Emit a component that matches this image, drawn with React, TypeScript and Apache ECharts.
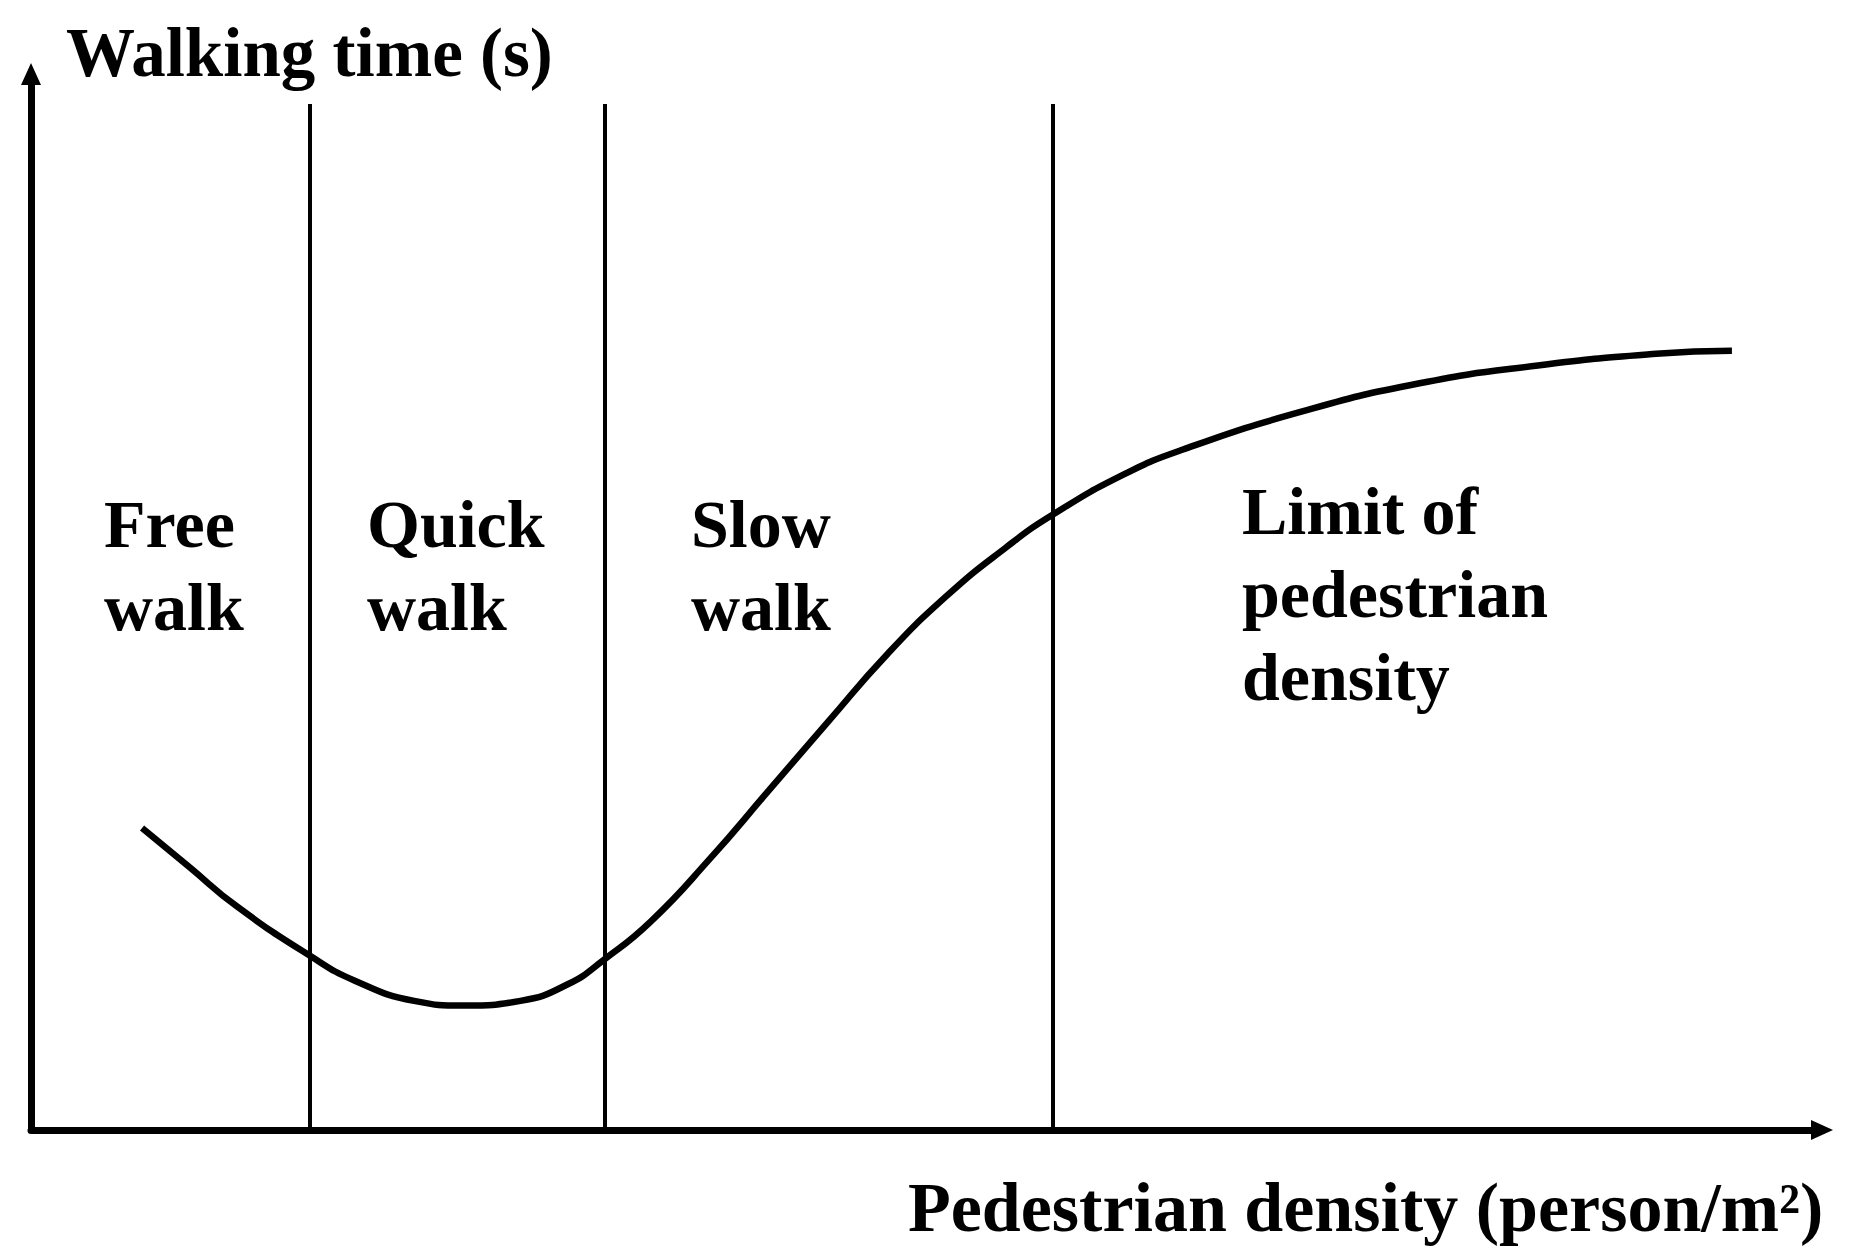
import React, { useEffect, useRef } from "react";
import * as echarts from "echarts";

// Curve: walking time vs pedestrian density (conceptual units 0..10)
const densityX = [0.62, 0.884, 1.148, 1.558, 1.808, 2.139, 2.416, 2.733, 2.997, 3.202, 3.46, 3.79, 4.121, 4.451, 4.781, 5.111, 5.442, 5.706, 6.102, 6.432, 7.093, 7.753, 8.414, 9.074, 9.497];
const walkingTimeY = [2.86, 2.49, 2.119, 1.649, 1.414, 1.223, 1.178, 1.223, 1.38, 1.616, 1.973, 2.567, 3.218, 3.867, 4.506, 5.055, 5.514, 5.828, 6.208, 6.444, 6.802, 7.071, 7.24, 7.351, 7.38];

// Region boundaries on the density axis
const boundaries = [1.558, 3.202, 5.706];
const boundaryTop = 9.716;

const yTitle = "Walking time (s)";
const xTitle = "Pedestrian density (person/m\u00B2)";
const regionLabels = [
  { text: "Free\nwalk", x: 104, y: 524 },
  { text: "Quick\nwalk", x: 367, y: 524 },
  { text: "Slow\nwalk", x: 691, y: 524 },
  { text: "Limit of\npedestrian\ndensity", x: 1242, y: 511 },
];

const FONT = "'Liberation Serif', 'Times New Roman', serif";

export default function App() {
  const ref = useRef<HTMLDivElement>(null);
  useEffect(() => {
    if (!ref.current) return;
    const chart = echarts.init(ref.current, null, { renderer: "svg" });
    const curve = densityX.map((x, i) => [x, walkingTimeY[i]]);
    const axisCommon = {
      type: "value" as const,
      min: 0,
      max: 10,
      axisLine: {
        show: true,
        onZero: false,
        symbol: ["none", "triangle"],
        symbolSize: [20, 22],
        lineStyle: { color: "#000", width: 7 },
      },
      axisTick: { show: false },
      axisLabel: { show: false },
      splitLine: { show: false },
    };
    const lh = 83;
    chart.setOption({
      animation: false,
      backgroundColor: "#fff",
      grid: { left: 31, right: 33, top: 74, bottom: 130, containLabel: false },
      xAxis: axisCommon,
      yAxis: axisCommon,
      series: [
        {
          type: "line",
          data: curve,
          smooth: 0.5,
          symbol: "none",
          lineStyle: { color: "#000", width: 6.5 },
          silent: true,
          markLine: {
            silent: true,
            symbol: ["none", "none"],
            label: { show: false },
            lineStyle: { color: "#000", width: 4, type: "solid" },
            data: boundaries.map((b) => [
              { coord: [b, 0] },
              { coord: [b, boundaryTop] },
            ]),
          },
        },
      ],
      graphic: [
        {
          type: "text",
          x: 66,
          y: 53,
          style: {
            text: yTitle,
            font: `bold 69px ${FONT}`,
            fill: "#000",
            textAlign: "left",
            textVerticalAlign: "middle",
          },
        },
        {
          type: "text",
          x: 908,
          y: 1207,
          style: {
            text: xTitle,
            font: `bold 70px ${FONT}`,
            fill: "#000",
            textAlign: "left",
            textVerticalAlign: "middle",
          },
        },
        ...regionLabels.map((r) => ({
          type: "text",
          x: r.x,
          y: r.y - lh / 2,
          style: {
            text: r.text,
            font: `bold 68px ${FONT}`,
            lineHeight: lh,
            fill: "#000",
            textAlign: "left",
            textVerticalAlign: "top",
          },
        })),
      ],
    });
    return () => chart.dispose();
  }, []);
  return (
    <div
      ref={ref}
      style={{ position: "absolute", left: 0, top: 0, width: 1855, height: 1260, background: "#fff" }}
    />
  );
}
